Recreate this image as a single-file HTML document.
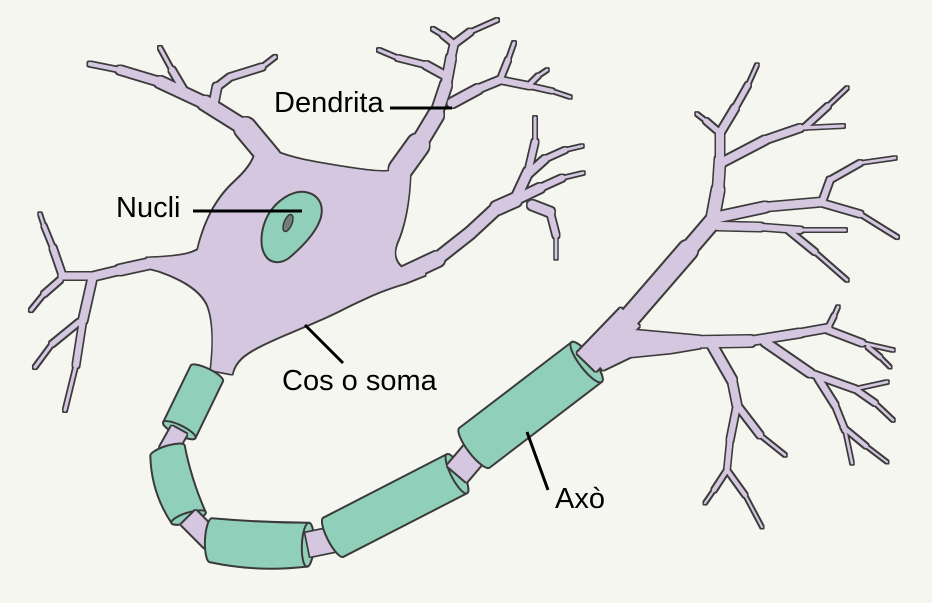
<!DOCTYPE html>
<html><head><meta charset="utf-8"><style>
html,body{margin:0;padding:0;background:#f6f6f1;}
svg{display:block;}
text{font-family:"Liberation Sans",Arial,sans-serif;font-size:29px;fill:#000;}
</style></head><body>
<svg width="932" height="603" viewBox="0 0 932 603" xmlns="http://www.w3.org/2000/svg">
<defs>
<filter id="ol" filterUnits="userSpaceOnUse" x="0" y="0" width="932" height="603">
<feMorphology in="SourceAlpha" operator="dilate" radius="1.6" result="d"/>
<feFlood flood-color="#3a3a3a"/>
<feComposite in2="d" operator="in" result="o"/>
<feMerge><feMergeNode in="o"/><feMergeNode in="SourceGraphic"/></feMerge>
</filter>
</defs>
<rect width="932" height="603" fill="#f6f6f1"/>

<!-- soma + dendrites -->
<g filter="url(#ol)">
<path fill="#d4c7df" stroke="none" d="M258,142 C275,155 300,160 330,165 C355,169 378,173 392,171 L410,158 C411,190 406,222 397,242 C393,252 394,262 402,268 L425,262 L425,275 L405,283 C380,290 360,300 340,310 C310,325 275,337 252,350 C240,357 234,364 232,374 L211,370 C214,345 214,318 207,303 C200,290 185,280 160,271 L145,267 L147,258 C170,257 188,256 198,250 C204,225 215,200 235,182 C248,170 256,160 258,142 Z"/>
<g fill="none" stroke="#d4c7df" stroke-linecap="round" stroke-linejoin="round">
<!-- top-left dendrite -->
<path d="M270,158 L245,128" stroke-width="21"/>
<path d="M245,128 L205,103" stroke-width="14"/>
<path d="M205,103 L160,82" stroke-width="11"/>
<path d="M160,82 L120,70" stroke-width="8"/>
<path d="M120,70 L90,64" stroke-width="4"/>
<path d="M185,92 L172,70" stroke-width="6"/>
<path d="M172,70 L160,48" stroke-width="3"/>
<path d="M214,102 L217,87" stroke-width="8"/>
<path d="M217,87 L230,77 L262,67" stroke-width="6"/>
<path d="M262,67 L275,57" stroke-width="3"/>
<!-- Dendrita stem -->
<path d="M400,170 L418,145" stroke-width="22"/>
<path d="M418,145 L436,115" stroke-width="15"/>
<path d="M436,115 L446,85" stroke-width="11"/>
<path d="M446,85 L451,58" stroke-width="9"/>
<path d="M451,58 L454,44" stroke-width="7"/>
<path d="M454,44 L443,35" stroke-width="5"/>
<path d="M443,35 L433,29" stroke-width="3"/>
<path d="M454,44 L470,32" stroke-width="6"/>
<path d="M470,32 L497,20" stroke-width="3"/>
<path d="M446,76 L426,65" stroke-width="7"/>
<path d="M426,65 L398,58" stroke-width="5"/>
<path d="M398,58 L379,50" stroke-width="3"/>
<path d="M452,103 L478,89" stroke-width="9"/>
<path d="M478,89 L500,80" stroke-width="7"/>
<path d="M500,80 L508,60" stroke-width="5"/>
<path d="M508,60 L514,43" stroke-width="3"/>
<path d="M500,80 L530,86" stroke-width="6"/>
<path d="M530,86 L552,91" stroke-width="4"/>
<path d="M552,91 L570,97" stroke-width="2.5"/>
<path d="M530,84 L538,76" stroke-width="4"/>
<path d="M538,76 L547,70" stroke-width="2.5"/>
<!-- right middle dendrite -->
<path d="M405,274 L437,259" stroke-width="15"/>
<path d="M437,259 L470,233" stroke-width="11"/>
<path d="M470,233 L497,208" stroke-width="11"/>
<path d="M497,208 L515,200" stroke-width="13"/>
<path d="M515,200 L528,172" stroke-width="9"/>
<path d="M528,172 L535,142" stroke-width="6"/>
<path d="M535,142 L535,118" stroke-width="3"/>
<path d="M526,176 L545,159" stroke-width="7"/>
<path d="M545,159 L565,150" stroke-width="5"/>
<path d="M565,150 L582,146" stroke-width="2.5"/>
<path d="M515,200 L540,188" stroke-width="9"/>
<path d="M540,188 L562,178" stroke-width="6"/>
<path d="M562,178 L583,173" stroke-width="2.5"/>
<path d="M532,205 L550,212" stroke-width="9"/>
<path d="M550,212 L556,235" stroke-width="6"/>
<path d="M556,235 L556,258" stroke-width="2.5"/>
<!-- far left dendrite -->
<path d="M152,263 L120,270" stroke-width="10"/>
<path d="M120,270 L95,276" stroke-width="8"/>
<path d="M95,276 L62,276" stroke-width="7"/>
<path d="M62,274 L53,248" stroke-width="6"/>
<path d="M53,248 L44,226" stroke-width="4"/>
<path d="M44,226 L40,214" stroke-width="2.5"/>
<path d="M60,280 L44,294" stroke-width="5"/>
<path d="M44,294 L31,310" stroke-width="3"/>
<path d="M92,280 L83,320" stroke-width="8"/>
<path d="M83,320 L76,365" stroke-width="6"/>
<path d="M76,365 L65,410" stroke-width="3"/>
<path d="M79,322 L52,344" stroke-width="5"/>
<path d="M52,344 L35,367" stroke-width="3"/>
</g>
</g>

<!-- nucleus -->
<path d="M305,192 C318,194 324,204 321,217 C317,232 302,247 289,258 C281,264 270,264 265,255 C259,245 261,228 268,215 C276,201 292,190 305,192 Z" fill="#90d0bb" stroke="#3a3a3a" stroke-width="2"/>
<ellipse cx="288" cy="223" rx="4" ry="9" transform="rotate(22 288 223)" fill="#6f7f7b" stroke="#3a3a3a" stroke-width="1.5"/>

<!-- myelin segments -->
<g stroke="#3a3a3a" stroke-width="2" fill="#90d0bb">
<g transform="translate(209,369) rotate(115.9)">
<path d="M5,-18 L68,-18 A5,18 0 0 1 68,18 L5,18 A5,18 0 0 1 5,-18 Z"/>
<ellipse cx="68" cy="0" rx="5" ry="18"/>
</g>
</g>
<g filter="url(#ol)"><path d="M179.3,430.1 L167,452" stroke="#d4c7df" stroke-width="17" fill="none"/></g>

<g stroke="#3a3a3a" stroke-width="2" fill="#90d0bb">
<g transform="translate(166,446) rotate(72.5)">
<path d="M5,-18 Q40,-14 75,-18 A5,18 0 0 1 75,18 Q40,28 5,18 A5,18 0 0 1 5,-18 Z"/>
<ellipse cx="75" cy="0" rx="5" ry="18"/>
</g>
</g>
<g filter="url(#ol)"><path d="M188.6,517.5 L212,541" stroke="#d4c7df" stroke-width="20" fill="none"/></g>

<g stroke="#3a3a3a" stroke-width="2" fill="#90d0bb">
<g transform="translate(205,540) rotate(2.6)">
<path d="M6,-22 Q54,-20 103,-22 A6,22 0 0 1 103,22 Q54,30 6,22 A6,22 0 0 1 6,-22 Z"/>
<ellipse cx="103" cy="0" rx="6" ry="22"/>
</g>
</g>
<g filter="url(#ol)"><path d="M307.9,544.7 L336,539" stroke="#d4c7df" stroke-width="24" fill="none"/></g>

<g stroke="#3a3a3a" stroke-width="2" fill="#90d0bb">
<g transform="translate(328,540) rotate(-27.2)">
<path d="M6,-22 L145,-22 A6,22 0 0 1 145,22 L6,22 A6,22 0 0 1 6,-22 Z"/>
<ellipse cx="145" cy="0" rx="6" ry="22"/>
</g>
</g>
<g filter="url(#ol)"><path d="M456.9,473.7 L478,449" stroke="#d4c7df" stroke-width="25" fill="none"/></g>

<g stroke="#3a3a3a" stroke-width="2" fill="#90d0bb">
<g transform="translate(469,452) rotate(-37.4)">
<path d="M7,-25 L148,-25 A7,25 0 0 1 148,25 L7,25 A7,25 0 0 1 7,-25 Z"/>
<ellipse cx="148" cy="0" rx="7" ry="25"/>
</g>
</g>

<!-- axon trunk and terminals -->
<g filter="url(#ol)">
<path fill="#d4c7df" stroke="none" d="M588,352 L633,330 L700,336 L700,348 L670,353 L630,357 L603,370 Z"/>
<g fill="none" stroke="#d4c7df" stroke-linecap="round" stroke-linejoin="round">
<path d="M586.5,362.2 L630,317" stroke-width="26" stroke-linecap="butt"/>
<path d="M630,317 L688,250" stroke-width="19"/>
<path d="M688,250 L712,222" stroke-width="15"/>
<path d="M712,222 L718,190" stroke-width="12"/>
<path d="M718,190 L720,160" stroke-width="10"/>
<path d="M720,160 L720,133" stroke-width="8"/>
<path d="M720,133 L706,121" stroke-width="5"/>
<path d="M706,121 L697,114" stroke-width="2.5"/>
<path d="M720,133 L735,108" stroke-width="7"/>
<path d="M735,108 L748,85" stroke-width="5"/>
<path d="M748,85 L757,65" stroke-width="2.5"/>
<path d="M721,163 L765,140" stroke-width="8"/>
<path d="M765,140 L800,128" stroke-width="7"/>
<path d="M800,128 L843,126" stroke-width="3"/>
<path d="M805,127 L828,106" stroke-width="5"/>
<path d="M828,106 L847,88" stroke-width="2.5"/>
<path d="M714,218 L765,207" stroke-width="10"/>
<path d="M765,207 L822,202" stroke-width="8"/>
<path d="M822,202 L830,180" stroke-width="6"/>
<path d="M830,180 L860,163" stroke-width="5"/>
<path d="M860,163 L895,158" stroke-width="2.5"/>
<path d="M822,203 L860,214" stroke-width="6"/>
<path d="M860,214 L897,237" stroke-width="3"/>
<path d="M718,226 L760,227" stroke-width="8"/>
<path d="M760,227 L800,230" stroke-width="6"/>
<path d="M800,230 L845,230" stroke-width="3"/>
<path d="M788,230 L815,252" stroke-width="5"/>
<path d="M815,252 L847,280" stroke-width="2.5"/>
<!-- lower terminals -->
<path d="M690,342 L750,341" stroke-width="11"/>
<path d="M750,341 L800,333" stroke-width="8"/>
<path d="M800,333 L828,328" stroke-width="7"/>
<path d="M828,328 L834,316" stroke-width="4"/>
<path d="M834,316 L838,307" stroke-width="2.5"/>
<path d="M828,330 L862,343" stroke-width="6"/>
<path d="M862,343 L893,350" stroke-width="2.5"/>
<path d="M868,347 L880,357" stroke-width="3.5"/>
<path d="M880,357 L890,367" stroke-width="2"/>
<path d="M765,342 L810,373" stroke-width="8"/>
<path d="M810,373 L855,389" stroke-width="6"/>
<path d="M855,389 L887,382" stroke-width="2.5"/>
<path d="M855,389 L875,403" stroke-width="5"/>
<path d="M875,403 L893,420" stroke-width="2.5"/>
<path d="M818,378 L835,405" stroke-width="6"/>
<path d="M835,405 L845,430" stroke-width="5"/>
<path d="M845,430 L852,463" stroke-width="2.5"/>
<path d="M843,427 L866,446" stroke-width="4"/>
<path d="M866,446 L887,462" stroke-width="2"/>
<path d="M712,345 L732,380" stroke-width="9"/>
<path d="M732,380 L737,405" stroke-width="8"/>
<path d="M737,405 L760,435" stroke-width="6"/>
<path d="M760,435 L785,455" stroke-width="2.5"/>
<path d="M737,405 L730,440" stroke-width="6"/>
<path d="M730,440 L727,470" stroke-width="5"/>
<path d="M727,470 L714,490" stroke-width="4"/>
<path d="M714,490 L705,503" stroke-width="2"/>
<path d="M727,470 L745,495" stroke-width="4"/>
<path d="M745,495 L762,527" stroke-width="2"/>
</g>
</g>

<!-- labels and pointers -->
<g stroke="#000" stroke-width="3">
<line x1="390" y1="108" x2="452" y2="108"/>
<line x1="193" y1="211" x2="302" y2="211"/>
<line x1="305" y1="325" x2="343" y2="363"/>
<line x1="527" y1="432" x2="548" y2="490"/>
</g>
<text x="274" y="112">Dendrita</text>
<text x="116" y="217">Nucli</text>
<text x="282" y="390">Cos o soma</text>
<text x="555" y="508">Axò</text>
</svg>
</body></html>
